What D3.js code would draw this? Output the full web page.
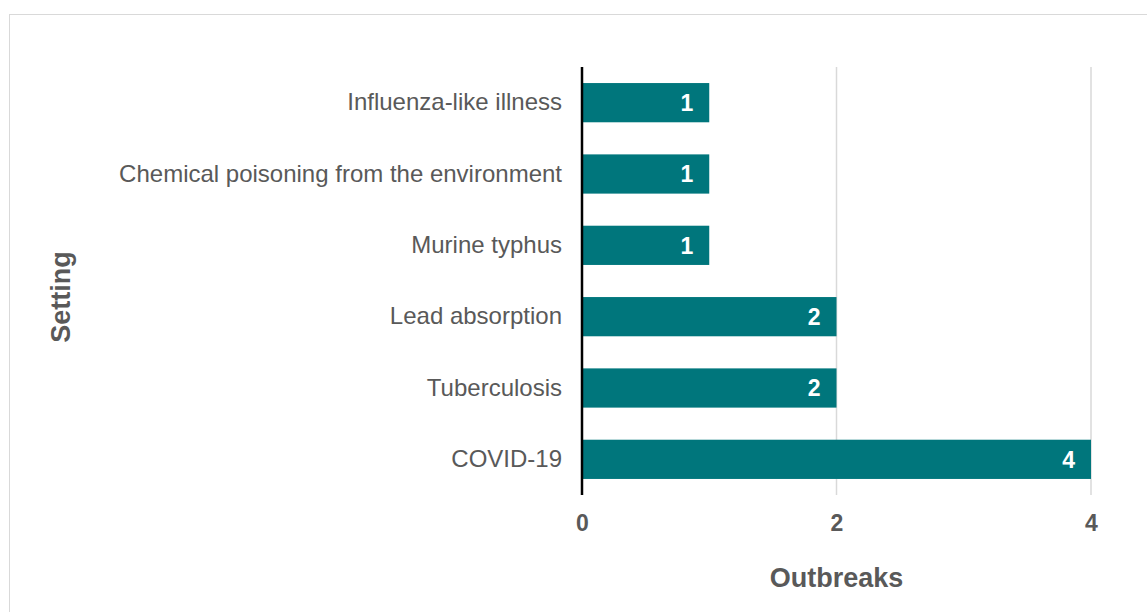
<!DOCTYPE html>
<html>
<head>
<meta charset="utf-8">
<script src="https://cdn.jsdelivr.net/npm/d3@7"></script>
<style>
  html, body { margin: 0; padding: 0; background: #fff; }
  svg { display: block; }
  svg text { font-family: "Liberation Sans", Arial, sans-serif; }
</style>
</head>
<body>
<svg id="chart" width="1147" height="612"></svg>
<script>
// Outbreaks by setting
const categories = [
  "Influenza-like illness",
  "Chemical poisoning from the environment",
  "Murine typhus",
  "Lead absorption",
  "Tuberculosis",
  "COVID-19"
];
const outbreaks = [1, 1, 1, 2, 2, 4];
const xTicks = [0, 2, 4];

const svg = d3.select("#chart");
const W = 1147, H = 612;
const margin = { left: 582, right: 56, top: 67, bottom: 117 };

// Outer frame
svg.append("rect")
  .attr("x", 9.5).attr("y", 14.5)
  .attr("width", W).attr("height", H)
  .attr("fill", "none").attr("stroke", "#d9d9d9").attr("stroke-width", 1);

const x = d3.scaleLinear().domain([0, 4]).range([margin.left, W - margin.right]);
const y = d3.scaleBand().domain(categories).range([margin.top, H - margin.bottom]).paddingInner(0.45).paddingOuter(0.225);

const data = categories.map((c, i) => ({ c, v: outbreaks[i] }));

// Gridlines
svg.append("g").selectAll("line").data(xTicks.filter(t => t > 0)).join("line")
  .attr("x1", d => x(d)).attr("x2", d => x(d))
  .attr("y1", margin.top).attr("y2", H - margin.bottom)
  .attr("stroke", "#d9d9d9").attr("stroke-width", 1.5);

// Bars
svg.append("g").selectAll("rect").data(data).join("rect")
  .attr("x", x(0)).attr("y", d => y(d.c))
  .attr("width", d => x(d.v) - x(0)).attr("height", y.bandwidth())
  .attr("fill", "#00767c");

// Value labels
svg.append("g").selectAll("text").data(data).join("text")
  .attr("x", d => x(d.v) - 16).attr("y", d => y(d.c) + y.bandwidth() / 2)
  .attr("dy", "0.36em").attr("text-anchor", "end")
  .attr("fill", "#fff").attr("font-weight", "bold").style("font-size", "23px")
  .text(d => d.v);

// Category axis
const yAxis = svg.append("g").attr("transform", `translate(${margin.left},0)`)
  .call(d3.axisLeft(y).tickSize(0).tickPadding(20));
yAxis.select(".domain").remove();
yAxis.selectAll("text").style("font-size", "24px").attr("fill", "#595959");
svg.append("line")
  .attr("x1", margin.left).attr("x2", margin.left)
  .attr("y1", margin.top).attr("y2", H - margin.bottom)
  .attr("stroke", "#000").attr("stroke-width", 2.5);

// Value axis
const xAxis = svg.append("g").attr("transform", `translate(0,${H - margin.bottom})`)
  .call(d3.axisBottom(x).tickValues(xTicks).tickSize(0).tickPadding(20).tickFormat(d3.format("d")));
xAxis.select(".domain").remove();
xAxis.selectAll("text").style("font-size", "23px").attr("font-weight", "bold").attr("fill", "#595959");

// Axis titles
svg.append("text")
  .attr("x", x(2)).attr("y", 587).attr("text-anchor", "middle")
  .style("font-size", "27px").attr("font-weight", "bold").attr("fill", "#595959")
  .text("Outbreaks");
svg.append("text")
  .attr("transform", "translate(70,297) rotate(-90)")
  .attr("text-anchor", "middle")
  .style("font-size", "27px").attr("font-weight", "bold").attr("fill", "#595959")
  .text("Setting");
</script>
</body>
</html>
